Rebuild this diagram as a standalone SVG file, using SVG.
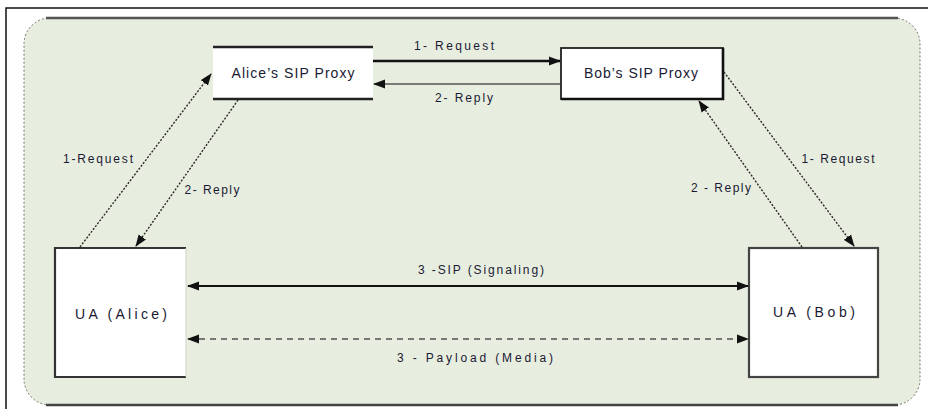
<svg xmlns="http://www.w3.org/2000/svg" width="928" height="409" viewBox="0 0 928 409">
  <defs>
    <marker id="head" viewBox="0 0 12 10" refX="11" refY="5" markerWidth="12" markerHeight="10" markerUnits="userSpaceOnUse" orient="auto-start-reverse">
      <path d="M0,0.5 L12,5 L0,9.5 Z" fill="#111"/>
    </marker>
    <style>
      .lbl { font-family: "Liberation Sans", Arial, sans-serif; font-size: 12px; fill: #1a1a33; text-anchor: middle; }
      .node-lbl { font-family: "Liberation Sans", Arial, sans-serif; font-size: 14px; fill: #1a1a33; text-anchor: middle; }
      .hop { fill: none; stroke: #2a2a2a; stroke-width: 1.4; stroke-dasharray: 2 1.6; }
    </style>
  </defs>

  <!-- page -->
  <rect x="0" y="0" width="928" height="409" fill="#ffffff"/>
  <path d="M6,409 L6,8 L928,8" fill="none" stroke="#111" stroke-width="1.5"/>

  <!-- background panel -->
  <rect x="24" y="18" width="896" height="387" rx="26" ry="26" fill="#e7eddf" stroke="#777" stroke-width="1" stroke-dasharray="2 2"/>
  <line x1="46" y1="18" x2="898" y2="18" stroke="#555" stroke-width="2.5"/>
  <line x1="46" y1="405" x2="898" y2="405" stroke="#444" stroke-width="2.5"/>

  <!-- nodes -->
  <g id="alice-proxy">
    <rect x="213" y="47" width="160" height="52" fill="#ffffff"/>
    <line x1="213" y1="47" x2="373" y2="47" stroke="#222" stroke-width="2.5"/>
    <line x1="213" y1="99" x2="373" y2="99" stroke="#222" stroke-width="2.5"/>
    <text class="node-lbl" x="293" y="78" textLength="123" lengthAdjust="spacing">Alice’s SIP Proxy</text>
  </g>

  <g id="bob-proxy">
    <rect x="561" y="48" width="162" height="51" fill="#ffffff" stroke="#222" stroke-width="1.8"/>
    <path d="M723,48 L723,99 L561,99" fill="none" stroke="#111" stroke-width="2.6"/>
    <text class="node-lbl" x="641" y="78" textLength="114" lengthAdjust="spacing">Bob’s SIP Proxy</text>
  </g>

  <g id="ua-alice">
    <rect x="55" y="248" width="131" height="129" fill="#ffffff"/>
    <path d="M186,248 L55,248 L55,377 L186,377" fill="none" stroke="#333" stroke-width="2.2"/>
    <line x1="186" y1="248" x2="186" y2="377" stroke="#cfd5c8" stroke-width="1"/>
    <text class="node-lbl" x="121" y="319" textLength="92" lengthAdjust="spacing">UA (Alice)</text>
  </g>

  <g id="ua-bob">
    <rect x="749" y="248" width="129" height="129" fill="#ffffff" stroke="#444" stroke-width="2.2"/>
    <text class="node-lbl" x="814" y="317" textLength="82" lengthAdjust="spacing">UA (Bob)</text>
  </g>

  <!-- connectors -->
  <g id="connectors">
    <line x1="373" y1="61" x2="560" y2="61" stroke="#111" stroke-width="2.5" marker-end="url(#head)"/>
    <line x1="560" y1="84" x2="374" y2="84" stroke="#555" stroke-width="1.4" marker-end="url(#head)"/>

    <line class="hop" x1="80" y1="247" x2="211" y2="74" marker-end="url(#head)"/>
    <line class="hop" x1="238" y1="100" x2="136" y2="246" marker-end="url(#head)"/>
    <line class="hop" x1="802" y1="247" x2="699" y2="101" marker-end="url(#head)"/>
    <line class="hop" x1="724" y1="72" x2="854" y2="246" marker-end="url(#head)"/>

    <line x1="188" y1="286" x2="748" y2="286" stroke="#111" stroke-width="2" marker-start="url(#head)" marker-end="url(#head)"/>
    <line x1="188" y1="339" x2="748" y2="339" stroke="#777" stroke-width="2" stroke-dasharray="6 5" marker-start="url(#head)" marker-end="url(#head)"/>

    <text class="lbl" x="454" y="50" textLength="80" lengthAdjust="spacing">1- Request</text>
    <text class="lbl" x="464" y="102" textLength="58" lengthAdjust="spacing">2- Reply</text>
    <text class="lbl" x="98" y="163" textLength="70" lengthAdjust="spacing">1-Request</text>
    <text class="lbl" x="212" y="194" textLength="55" lengthAdjust="spacing">2- Reply</text>
    <text class="lbl" x="721" y="192" textLength="60" lengthAdjust="spacing">2 - Reply</text>
    <text class="lbl" x="838" y="163" textLength="73" lengthAdjust="spacing">1- Request</text>
    <text class="lbl" x="481" y="274" textLength="126" lengthAdjust="spacing">3 -SIP (Signaling)</text>
    <text class="lbl" x="475" y="362" textLength="156" lengthAdjust="spacing">3 - Payload (Media)</text>
  </g>
</svg>
